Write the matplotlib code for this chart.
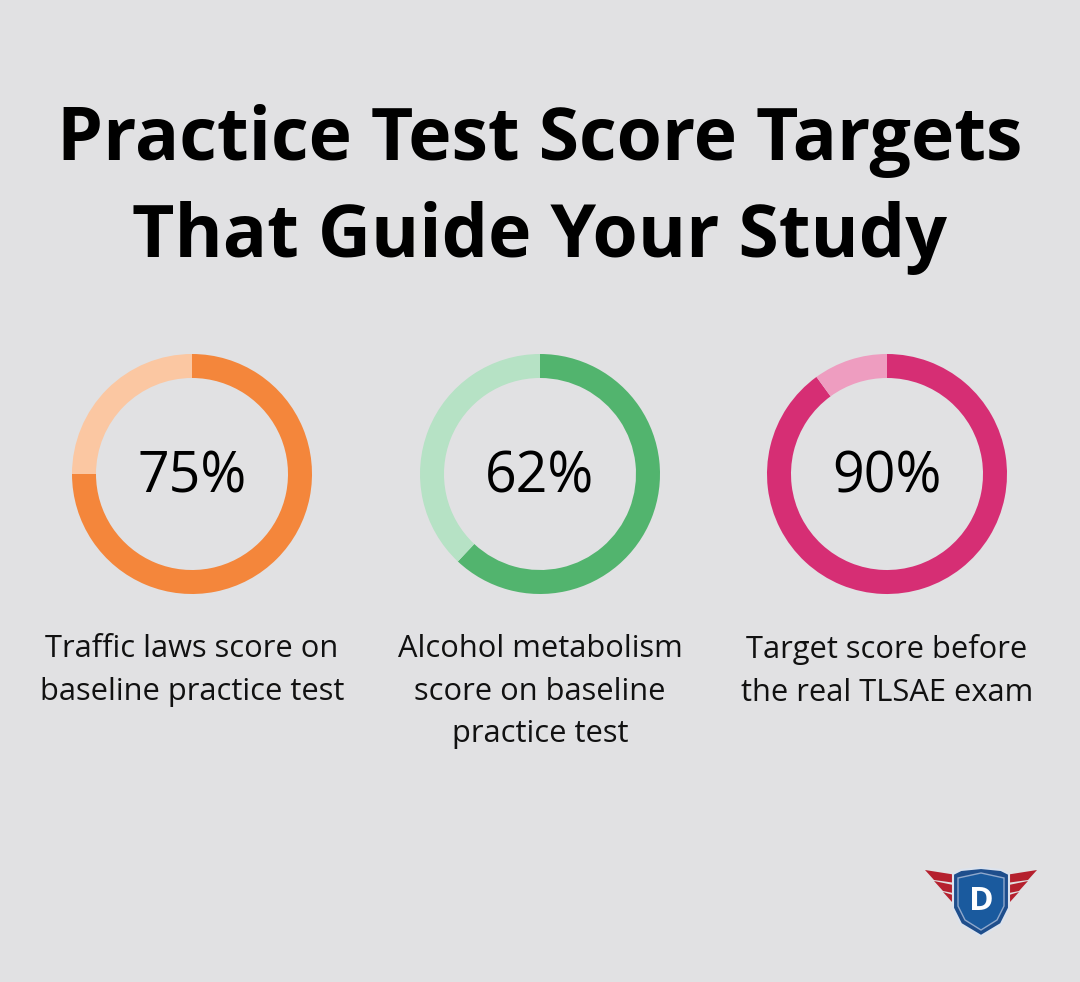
import matplotlib
matplotlib.use("Agg")
import matplotlib.pyplot as plt
from matplotlib.patches import Polygon
import numpy as np

W, H = 1080, 982
DPI = 100
BG = "#E1E1E3"

title_lines = ["Practice Test Score Targets", "That Guide Your Study"]
values = [75, 62, 90]
labels = ["75%", "62%", "90%"]
captions = [
    "Traffic laws score on\nbaseline practice test",
    "Alcohol metabolism\nscore on baseline\npractice test",
    "Target score before\nthe real TLSAE exam",
]
dark_colors = ["#F4863B", "#52B46E", "#D62E74"]
light_colors = ["#FBC7A2", "#B6E2C5", "#EE9DC0"]

centers_x = [192, 540, 887]
center_y = 474
R = 120

fig = plt.figure(figsize=(W / DPI, H / DPI), dpi=DPI, facecolor=BG)
ax = fig.add_axes([0, 0, 1, 1])
ax.set_xlim(0, W)
ax.set_ylim(H, 0)
ax.axis("off")
ax.set_facecolor(BG)

# Title
ax.text(540, 141, title_lines[0], ha="center", va="center", fontsize=52.8,
        fontweight="bold", family="Open Sans", color="black")
ax.text(540, 238, title_lines[1], ha="center", va="center", fontsize=52.8,
        fontweight="bold", family="Open Sans", color="black")

# Donuts
for cx, v, lab, cap, dc, lc in zip(centers_x, values, labels, captions, dark_colors, light_colors):
    pax = fig.add_axes([(cx - R) / W, 1 - (center_y + R) / H, 2 * R / W, 2 * R / H])
    pax.pie([v, 100 - v], colors=[dc, lc], startangle=90, counterclock=False,
            radius=1.0, wedgeprops=dict(width=0.2, linewidth=0))
    pax.set_xlim(-1, 1)
    pax.set_ylim(-1, 1)
    pax.set_aspect("auto")
    pax.axis("off")
    pax.text(0, -0.03, lab, ha="center", va="center", fontsize=40, family="Open Sans",
             color="black")
    ax.text(cx, 634, cap, ha="center", va="top", fontsize=22.2, family="Open Sans",
            color="#111111", linespacing=1.55)

# Logo
lx, ly = 981, 902
red = "#B5202E"
for s in (-1, 1):
    for i, (y0, ln) in enumerate([(-27, 56), (-16, 47), (-5, 38)]):
        pts = [(lx + s * 18, ly + y0 + 1), (lx + s * ln, ly + y0 - 5),
               (lx + s * (ln - 9), ly + y0 + 5), (lx + s * 18, ly + y0 + 9)]
        ax.add_patch(Polygon(pts, closed=True, facecolor=red, edgecolor="none", zorder=3))
shield = [(lx - 28, ly - 28), (lx - 20, ly - 32), (lx, ly - 34), (lx + 20, ly - 32),
          (lx + 28, ly - 28), (lx + 28, ly + 6), (lx + 20, ly + 22), (lx, ly + 34),
          (lx - 20, ly + 22), (lx - 28, ly + 6)]
ax.add_patch(Polygon(shield, closed=True, facecolor="#1E4E8C", edgecolor="#DCE3EE",
                     linewidth=1.5, zorder=4))
inner = [(lx - 23, ly - 24), (lx, ly - 29), (lx + 23, ly - 24), (lx + 23, ly + 4),
         (lx + 16, ly + 18), (lx, ly + 28), (lx - 16, ly + 18), (lx - 23, ly + 4)]
ax.add_patch(Polygon(inner, closed=True, facecolor="#1A5A9E", edgecolor="#8FA8CC",
                     linewidth=1, zorder=5))
ax.text(lx, ly - 1, "D", ha="center", va="center", fontsize=24, fontweight="bold",
        family="Open Sans", color="white", zorder=6)

fig.savefig("out.png", dpi=DPI, facecolor=BG)
